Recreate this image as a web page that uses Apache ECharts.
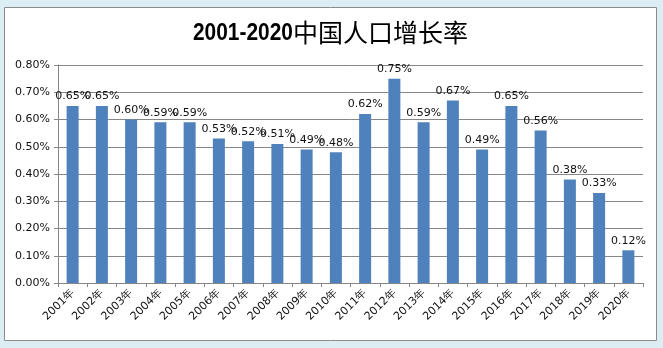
<!DOCTYPE html>
<html>
<head>
<meta charset="utf-8">
<script src="https://cdn.jsdelivr.net/npm/echarts@6/dist/echarts.min.js"></script>
<style>
  html, body { margin: 0; padding: 0; background: #dcedf3; }
  #chart { width: 663px; height: 348px; }
</style>
</head>
<body>
<div id="chart"></div>
<script>
// Annual natural population growth rate of China, in percent
const years = ['2001年','2002年','2003年','2004年','2005年','2006年','2007年','2008年','2009年','2010年',
               '2011年','2012年','2013年','2014年','2015年','2016年','2017年','2018年','2019年','2020年'];
const growthRate = [0.65, 0.65, 0.60, 0.59, 0.59, 0.53, 0.52, 0.51, 0.49, 0.48,
                    0.62, 0.75, 0.59, 0.67, 0.49, 0.65, 0.56, 0.38, 0.33, 0.12];
const titleYears = '2001-2020';
const titleName = '中国人口增长率';

const chart = echarts.init(document.getElementById('chart'), null, { renderer: 'canvas' });
const axisGrey = '#868686';
const font = '"DejaVu Sans", Verdana, sans-serif';

chart.setOption({
  backgroundColor: '#dcedf3',
  animation: false,
  graphic: [
    {
      type: 'rect',
      z: -10,
      shape: { x: 4.5, y: 7.5, width: 652, height: 333 },
      style: { fill: '#ffffff', stroke: '#8c8c8c', lineWidth: 1 }
    },
    // Title: slightly condensed bold year range followed by the Chinese caption
    {
      type: 'text',
      x: 193,
      y: 33,
      scaleX: 0.87,
      style: {
        text: titleYears,
        fill: '#000',
        fontFamily: '"Liberation Sans", Arial, sans-serif',
        fontWeight: 'bold',
        fontSize: 24,
        verticalAlign: 'middle'
      }
    },
    {
      type: 'text',
      x: 293,
      y: 32,
      style: {
        text: titleName,
        fill: '#000',
        fontFamily: '"Noto Sans CJK SC", sans-serif',
        fontWeight: 'normal',
        fontSize: 25,
        verticalAlign: 'middle'
      }
    }
  ],
  grid: { left: 58, right: 20, top: 65, bottom: 65, containLabel: false },
  xAxis: {
    type: 'category',
    data: years,
    boundaryGap: true,
    axisLine: { lineStyle: { color: axisGrey } },
    axisTick: { show: true, length: 4, alignWithLabel: false, lineStyle: { color: axisGrey } },
    axisLabel: {
      rotate: 45,
      interval: 0,
      margin: 8,
      fontFamily: font,
      fontSize: 11,
      color: '#111'
    }
  },
  yAxis: {
    type: 'value',
    min: 0,
    max: 0.8,
    interval: 0.1,
    axisLine: { show: true, lineStyle: { color: axisGrey } },
    axisTick: { show: true, length: 4, lineStyle: { color: axisGrey } },
    splitLine: { lineStyle: { color: axisGrey } },
    axisLabel: {
      formatter: v => v.toFixed(2) + '%',
      margin: 8,
      fontFamily: font,
      fontSize: 11,
      color: '#111'
    }
  },
  series: [{
    type: 'bar',
    data: growthRate,
    barWidth: 12,
    itemStyle: { color: '#4f81bd' },
    label: {
      show: true,
      position: 'top',
      distance: 4,
      formatter: p => p.value.toFixed(2) + '%',
      fontFamily: font,
      fontSize: 11,
      color: '#111'
    }
  }]
});
</script>
</body>
</html>
